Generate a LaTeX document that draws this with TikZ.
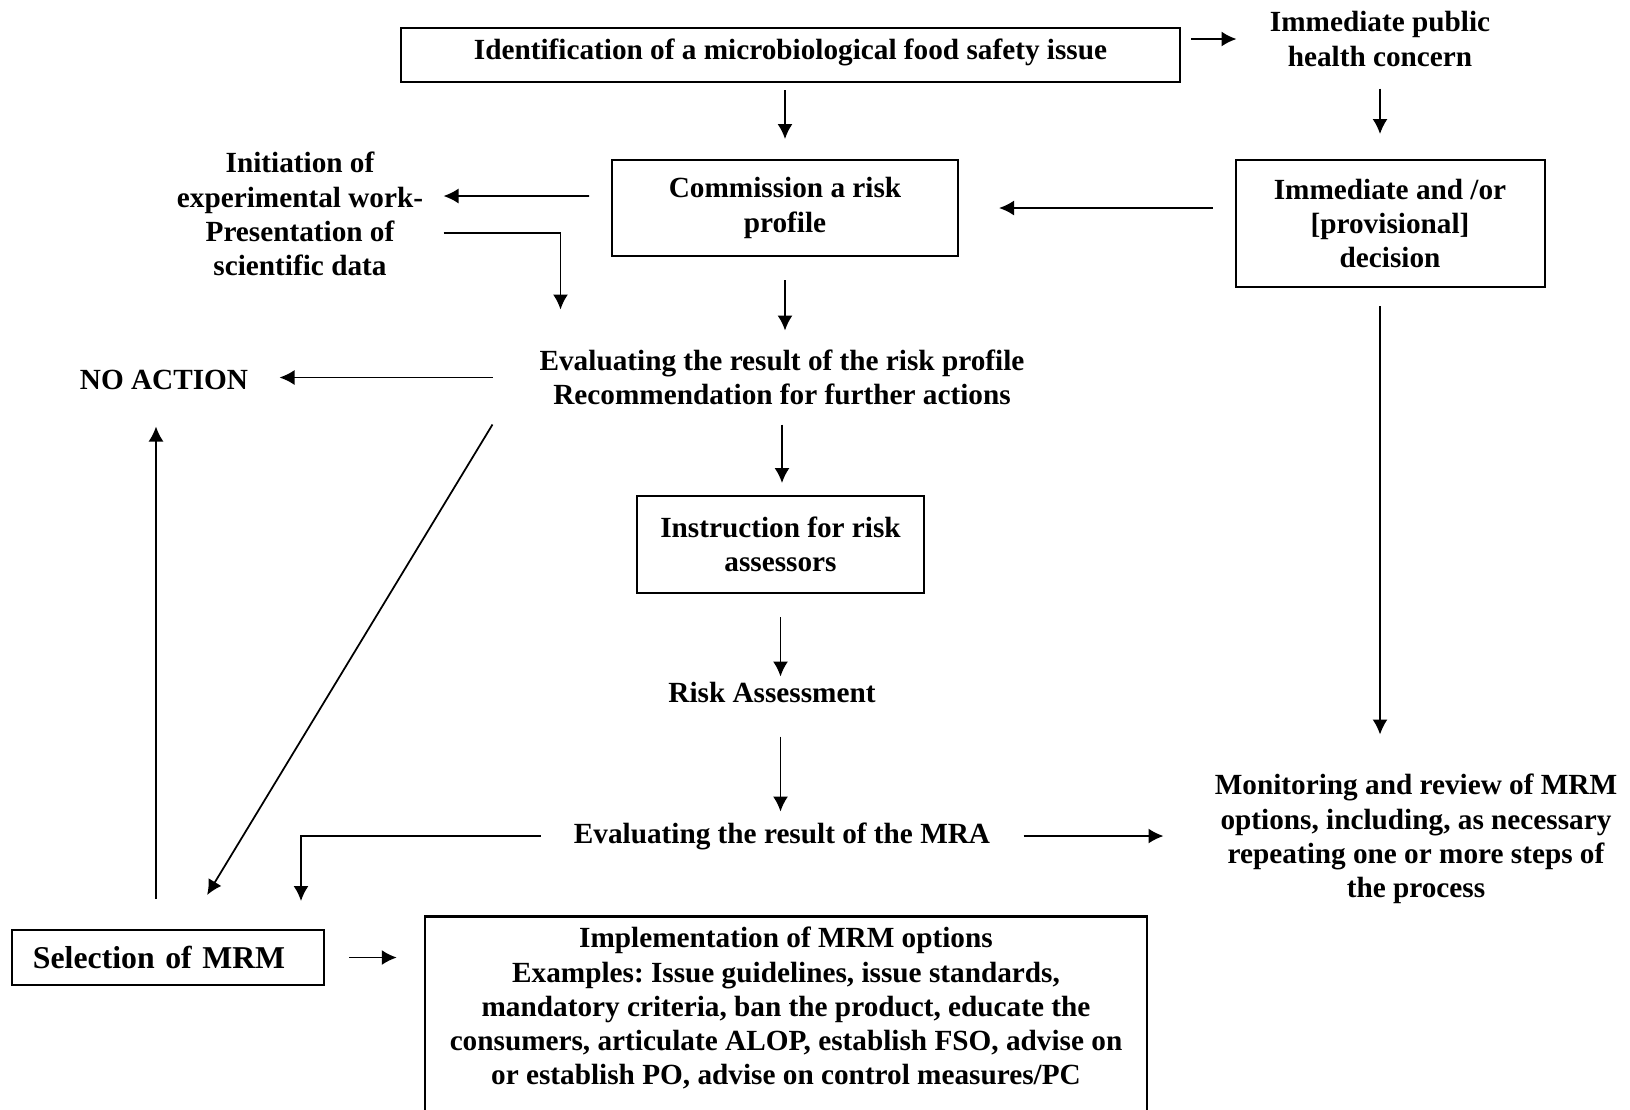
\documentclass[tikz,border=0pt]{standalone}
\usepackage{fontspec}
\setmainfont{Liberation Serif}
\usetikzlibrary{arrows.meta, positioning, calc}
\frenchspacing

\begin{document}
\begin{tikzpicture}[
    x=0.4pt, y=-0.4pt,
    font=\fontsize{11.7}{13.7}\selectfont\bfseries,
    box/.style={draw, line width=0.8pt, align=center, inner sep=0pt},
    txt/.style={align=center, inner sep=0pt},
    arrow/.style={-{Latex[length=6pt, width=6pt]}, line width=0.7pt}
]
    \useasboundingbox (0,0) rectangle (1630,1109);

    \node[box, line width=1pt, minimum width=311.6pt, minimum height=21.6pt, text depth=4.9pt] (ident) at (790.5,55) {Identification of a microbiological food safety issue};
    \node[txt, minimum width=114.4pt, minimum height=39.2pt] (health) at (1380,39) {Immediate public\\health concern};
    \node[box, minimum width=138.4pt, minimum height=38.4pt] (commission) at (785,208) {Commission a risk\\profile};
    \node[box, minimum width=123.6pt, minimum height=50.8pt] (decision) at (1390,223.5) {Immediate and /or\\{[provisional]}\\decision};
    \node[txt, minimum width=114.4pt] (init) at (300,214) {Initiation of\\experimental work-\\Presentation of\\scientific data};
    \node[txt, minimum width=231.2pt, minimum height=37.2pt] (evalprofile) at (782,377.5) {Evaluating the result of the risk profile\\Recommendation for further actions};
    \node[txt, minimum width=92pt, minimum height=36.8pt] (noaction) at (164,380) {NO ACTION};
    \node[box, minimum width=114.8pt, minimum height=38.8pt] (instruct) at (780.5,544.5) {Instruction for risk\\assessors};
    \node[txt, minimum height=12pt] (assess) at (772,692) {Risk Assessment};
    \node[txt, minimum width=192.8pt, minimum height=19.2pt] (evalmra) at (782,836) {Evaluating the result of the MRA};
    \node[txt, minimum width=201.6pt, minimum height=83.2pt] (monitor) at (1416,839) {Monitoring and review of MRM\\options, including, as necessary\\repeating one or more steps of\\the process};
    \node[box, text width=108pt, inner xsep=8.4pt, minimum height=22pt, align=left, font=\fontsize{12.7}{14.5}\selectfont\bfseries] (select) at (168,957.5) {Selection of MRM};
    \node[box, line width=1pt, anchor=north, inner sep=4.4pt] (implement) at (786,915) {\parbox[c][80pt][t]{280pt}{\centering Implementation of MRM options\\Examples: Issue guidelines, issue standards,\\mandatory criteria, ban the product, educate the\\consumers, articulate ALOP, establish FSO, advise on\\or establish PO, advise on control measures/PC}};

    \coordinate (mrup) at ([xshift=-4.8pt]select.north);
    \coordinate (mrdiag) at ([xshift=7.4pt]select.north);
    \coordinate (mrelbow) at ([xshift=53.2pt]select.north);
    \coordinate (initin) at ([xshift=27.2pt]evalprofile.north west);

    \draw[arrow, shorten <=4pt] (ident.east |- health.west) -- (health.west);
    \draw[arrow, shorten >=10pt] (health.south) -- (health.south |- decision.north);
    \draw[arrow, shorten <=2.8pt, shorten >=8pt] (ident.south -| commission.north) -- (commission.north);
    \draw[arrow, shorten <=8.8pt, shorten >=16pt] (decision.west |- commission.east) -- (commission.east);
    \draw[arrow, shorten <=8.8pt] ([yshift=4.8pt]commission.west) -- ([yshift=7.2pt]init.east);
    \draw[arrow, shorten >=8.4pt] ([yshift=-7.6pt]init.east) -| (initin);
    \draw[arrow, shorten <=9.2pt] (commission.south) -- (commission.south |- evalprofile.north);
    \draw[arrow] (evalprofile.west) -- (evalprofile.west -| noaction.east);
    \draw[arrow, shorten >=15.9pt] (evalprofile.south west) -- (mrdiag);
    \draw[arrow, shorten >=4.8pt] (evalprofile.south) -- (evalprofile.south |- instruct.north);
    \draw[arrow, shorten <=9.2pt] (instruct.south) -- (instruct.south |- assess.north);
    \draw[arrow, shorten <=11.6pt] (instruct.south |- assess.south) -- (instruct.south |- evalmra.north);
    \draw[arrow, shorten >=11.2pt] (evalmra.west) -| (mrelbow);
    \draw[arrow] (evalmra.east) -- (evalmra.east -| monitor.west);
    \draw[arrow, shorten <=7.2pt] (health.south |- decision.south) -- (health.south |- monitor.north);
    \draw[arrow, shorten <=12pt] (mrup) -- (mrup |- noaction.south);
    \draw[arrow, shorten <=9.6pt, shorten >=10.8pt] (select.east) -- (select.east -| implement.west);
\end{tikzpicture}
\end{document}
